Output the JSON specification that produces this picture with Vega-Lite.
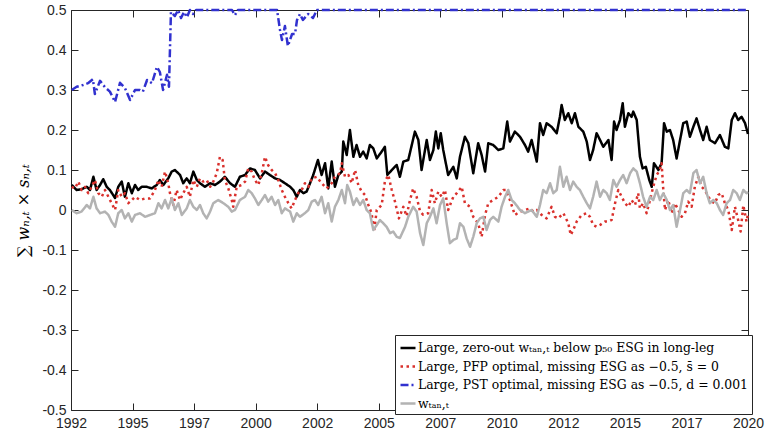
{
  "$schema": "https://vega.github.io/schema/vega-lite/v6.json",
  "width": 677,
  "height": 400,
  "autosize": {"type": "none"},
  "padding": {"left": 71, "top": 10, "right": 33, "bottom": 27},
  "background": "white",
  "config": {
    "font": "Liberation Sans",
    "view": {"stroke": null},
    "axis": {
      "grid": false,
      "labelFont": "Liberation Sans",
      "labelFontSize": 14,
      "labelColor": "#262626",
      "domainColor": "#262626",
      "domainWidth": 1,
      "tickColor": "#262626",
      "tickWidth": 1,
      "tickSize": -7
    }
  },
  "data": {
    "values": [
      {"s":"k","t":1992.53,"v":0.0625},{"s":"k","t":1992.73,"v":0.05},{"s":"k","t":1992.93,"v":0.052},{"s":"k","t":1993.14,"v":0.058},{"s":"k","t":1993.27,"v":0.05},{"s":"k","t":1993.41,"v":0.083},{"s":"k","t":1993.54,"v":0.05},{"s":"k","t":1993.68,"v":0.0625},{"s":"k","t":1993.81,"v":0.077},{"s":"k","t":1993.95,"v":0.058},{"s":"k","t":1994.08,"v":0.05},{"s":"k","t":1994.29,"v":0.03},{"s":"k","t":1994.42,"v":0.058},{"s":"k","t":1994.56,"v":0.071},{"s":"k","t":1994.69,"v":0.033},{"s":"k","t":1994.83,"v":0.067},{"s":"k","t":1994.97,"v":0.042},{"s":"k","t":1995.10,"v":0.0625},{"s":"k","t":1995.23,"v":0.05},{"s":"k","t":1995.37,"v":0.058},{"s":"k","t":1995.57,"v":0.058},{"s":"k","t":1995.78,"v":0.054},{"s":"k","t":1995.98,"v":0.0625},{"s":"k","t":1996.11,"v":0.075},{"s":"k","t":1996.25,"v":0.0625},{"s":"k","t":1996.45,"v":0.079},{"s":"k","t":1996.59,"v":0.096},{"s":"k","t":1996.72,"v":0.10},{"s":"k","t":1996.93,"v":0.0875},{"s":"k","t":1997.06,"v":0.067},{"s":"k","t":1997.20,"v":0.079},{"s":"k","t":1997.33,"v":0.067},{"s":"k","t":1997.47,"v":0.096},{"s":"k","t":1997.61,"v":0.075},{"s":"k","t":1997.74,"v":0.067},{"s":"k","t":1997.94,"v":0.058},{"s":"k","t":1998.15,"v":0.067},{"s":"k","t":1998.35,"v":0.0625},{"s":"k","t":1998.55,"v":0.071},{"s":"k","t":1998.75,"v":0.083},{"s":"k","t":1998.96,"v":0.067},{"s":"k","t":1999.16,"v":0.058},{"s":"k","t":1999.36,"v":0.083},{"s":"k","t":1999.57,"v":0.0875},{"s":"k","t":1999.77,"v":0.104},{"s":"k","t":1999.97,"v":0.10},{"s":"k","t":2000.18,"v":0.079},{"s":"k","t":2000.38,"v":0.096},{"s":"k","t":2000.58,"v":0.0875},{"s":"k","t":2000.79,"v":0.079},{"s":"k","t":2000.99,"v":0.075},{"s":"k","t":2001.19,"v":0.067},{"s":"k","t":2001.40,"v":0.058},{"s":"k","t":2001.53,"v":0.05},{"s":"k","t":2001.67,"v":0.033},{"s":"k","t":2001.80,"v":0.05},{"s":"k","t":2001.94,"v":0.042},{"s":"k","t":2002.07,"v":0.046},{"s":"k","t":2002.21,"v":0.067},{"s":"k","t":2002.34,"v":0.0875},{"s":"k","t":2002.53,"v":0.125},{"s":"k","t":2002.68,"v":0.0875},{"s":"k","t":2002.82,"v":0.117},{"s":"k","t":2002.95,"v":0.054},{"s":"k","t":2003.09,"v":0.121},{"s":"k","t":2003.22,"v":0.058},{"s":"k","t":2003.36,"v":0.0875},{"s":"k","t":2003.50,"v":0.096},{"s":"k","t":2003.56,"v":0.171},{"s":"k","t":2003.70,"v":0.1375},{"s":"k","t":2003.83,"v":0.20},{"s":"k","t":2003.97,"v":0.133},{"s":"k","t":2004.10,"v":0.1625},{"s":"k","t":2004.24,"v":0.133},{"s":"k","t":2004.37,"v":0.146},{"s":"k","t":2004.51,"v":0.129},{"s":"k","t":2004.64,"v":0.1625},{"s":"k","t":2004.78,"v":0.154},{"s":"k","t":2004.92,"v":0.129},{"s":"k","t":2005.12,"v":0.146},{"s":"k","t":2005.25,"v":0.158},{"s":"k","t":2005.35,"v":0.0875},{"s":"k","t":2005.53,"v":0.10},{"s":"k","t":2005.73,"v":0.1125},{"s":"k","t":2005.86,"v":0.083},{"s":"k","t":2006.00,"v":0.121},{"s":"k","t":2006.20,"v":0.125},{"s":"k","t":2006.47,"v":0.196},{"s":"k","t":2006.61,"v":0.175},{"s":"k","t":2006.74,"v":0.10},{"s":"k","t":2006.95,"v":0.175},{"s":"k","t":2007.08,"v":0.125},{"s":"k","t":2007.22,"v":0.15},{"s":"k","t":2007.32,"v":0.196},{"s":"k","t":2007.42,"v":0.154},{"s":"k","t":2007.52,"v":0.192},{"s":"k","t":2007.62,"v":0.15},{"s":"k","t":2007.82,"v":0.0875},{"s":"k","t":2008.03,"v":0.108},{"s":"k","t":2008.17,"v":0.079},{"s":"k","t":2008.30,"v":0.133},{"s":"k","t":2008.50,"v":0.183},{"s":"k","t":2008.64,"v":0.167},{"s":"k","t":2008.84,"v":0.092},{"s":"k","t":2009.04,"v":0.167},{"s":"k","t":2009.18,"v":0.1375},{"s":"k","t":2009.32,"v":0.096},{"s":"k","t":2009.45,"v":0.167},{"s":"k","t":2009.65,"v":0.1625},{"s":"k","t":2009.86,"v":0.15},{"s":"k","t":2010.06,"v":0.154},{"s":"k","t":2010.22,"v":0.221},{"s":"k","t":2010.33,"v":0.171},{"s":"k","t":2010.53,"v":0.196},{"s":"k","t":2010.74,"v":0.183},{"s":"k","t":2010.94,"v":0.1625},{"s":"k","t":2011.07,"v":0.146},{"s":"k","t":2011.21,"v":0.175},{"s":"k","t":2011.42,"v":0.121},{"s":"k","t":2011.55,"v":0.217},{"s":"k","t":2011.68,"v":0.1875},{"s":"k","t":2011.82,"v":0.217},{"s":"k","t":2012.02,"v":0.208},{"s":"k","t":2012.23,"v":0.192},{"s":"k","t":2012.36,"v":0.233},{"s":"k","t":2012.43,"v":0.2625},{"s":"k","t":2012.56,"v":0.225},{"s":"k","t":2012.70,"v":0.242},{"s":"k","t":2012.84,"v":0.217},{"s":"k","t":2012.97,"v":0.242},{"s":"k","t":2013.11,"v":0.208},{"s":"k","t":2013.31,"v":0.196},{"s":"k","t":2013.45,"v":0.171},{"s":"k","t":2013.58,"v":0.125},{"s":"k","t":2013.71,"v":0.15},{"s":"k","t":2013.85,"v":0.192},{"s":"k","t":2013.99,"v":0.175},{"s":"k","t":2014.12,"v":0.158},{"s":"k","t":2014.33,"v":0.175},{"s":"k","t":2014.46,"v":0.125},{"s":"k","t":2014.56,"v":0.221},{"s":"k","t":2014.66,"v":0.20},{"s":"k","t":2014.80,"v":0.225},{"s":"k","t":2014.91,"v":0.267},{"s":"k","t":2015.00,"v":0.208},{"s":"k","t":2015.14,"v":0.242},{"s":"k","t":2015.27,"v":0.233},{"s":"k","t":2015.34,"v":0.246},{"s":"k","t":2015.48,"v":0.225},{"s":"k","t":2015.61,"v":0.133},{"s":"k","t":2015.72,"v":0.104},{"s":"k","t":2015.85,"v":0.108},{"s":"k","t":2015.99,"v":0.075},{"s":"k","t":2016.09,"v":0.058},{"s":"k","t":2016.18,"v":0.117},{"s":"k","t":2016.36,"v":0.10},{"s":"k","t":2016.49,"v":0.117},{"s":"k","t":2016.59,"v":0.217},{"s":"k","t":2016.70,"v":0.196},{"s":"k","t":2016.83,"v":0.20},{"s":"k","t":2016.96,"v":0.175},{"s":"k","t":2017.10,"v":0.129},{"s":"k","t":2017.24,"v":0.175},{"s":"k","t":2017.37,"v":0.217},{"s":"k","t":2017.51,"v":0.221},{"s":"k","t":2017.64,"v":0.183},{"s":"k","t":2017.78,"v":0.208},{"s":"k","t":2017.91,"v":0.229},{"s":"k","t":2018.05,"v":0.20},{"s":"k","t":2018.18,"v":0.175},{"s":"k","t":2018.32,"v":0.208},{"s":"k","t":2018.45,"v":0.175},{"s":"k","t":2018.66,"v":0.167},{"s":"k","t":2018.86,"v":0.1875},{"s":"k","t":2019.06,"v":0.158},{"s":"k","t":2019.20,"v":0.154},{"s":"k","t":2019.34,"v":0.225},{"s":"k","t":2019.47,"v":0.242},{"s":"k","t":2019.60,"v":0.225},{"s":"k","t":2019.74,"v":0.233},{"s":"k","t":2019.88,"v":0.217},{"s":"k","t":2020.00,"v":0.19},

      {"s":"r","t":1992.53,"v":0.058},{"s":"r","t":1992.66,"v":0.054},{"s":"r","t":1992.80,"v":0.071},{"s":"r","t":1992.93,"v":0.05},{"s":"r","t":1993.07,"v":0.058},{"s":"r","t":1993.20,"v":0.042},{"s":"r","t":1993.34,"v":0.058},{"s":"r","t":1993.47,"v":0.075},{"s":"r","t":1993.61,"v":0.042},{"s":"r","t":1993.75,"v":0.033},{"s":"r","t":1993.88,"v":0.05},{"s":"r","t":1994.02,"v":0.033},{"s":"r","t":1994.15,"v":0.017},{"s":"r","t":1994.29,"v":0.0},{"s":"r","t":1994.42,"v":0.05},{"s":"r","t":1994.56,"v":0.033},{"s":"r","t":1994.69,"v":0.042},{"s":"r","t":1994.83,"v":0.017},{"s":"r","t":1994.97,"v":0.025},{"s":"r","t":1995.10,"v":0.033},{"s":"r","t":1995.30,"v":0.025},{"s":"r","t":1995.51,"v":0.029},{"s":"r","t":1995.71,"v":0.029},{"s":"r","t":1995.91,"v":0.05},{"s":"r","t":1996.05,"v":0.075},{"s":"r","t":1996.18,"v":0.058},{"s":"r","t":1996.32,"v":0.096},{"s":"r","t":1996.45,"v":0.067},{"s":"r","t":1996.52,"v":0.042},{"s":"r","t":1996.66,"v":0.0125},{"s":"r","t":1996.79,"v":0.05},{"s":"r","t":1996.93,"v":0.025},{"s":"r","t":1997.06,"v":0.042},{"s":"r","t":1997.20,"v":0.058},{"s":"r","t":1997.33,"v":0.033},{"s":"r","t":1997.47,"v":0.075},{"s":"r","t":1997.61,"v":0.058},{"s":"r","t":1997.74,"v":0.079},{"s":"r","t":1997.87,"v":0.071},{"s":"r","t":1998.01,"v":0.075},{"s":"r","t":1998.15,"v":0.058},{"s":"r","t":1998.28,"v":0.071},{"s":"r","t":1998.42,"v":0.092},{"s":"r","t":1998.55,"v":0.133},{"s":"r","t":1998.66,"v":0.125},{"s":"r","t":1998.75,"v":0.075},{"s":"r","t":1998.89,"v":0.054},{"s":"r","t":1999.03,"v":0.025},{"s":"r","t":1999.09,"v":0.008},{"s":"r","t":1999.23,"v":0.058},{"s":"r","t":1999.43,"v":0.0625},{"s":"r","t":1999.57,"v":0.071},{"s":"r","t":1999.70,"v":0.104},{"s":"r","t":1999.84,"v":0.096},{"s":"r","t":1999.97,"v":0.075},{"s":"r","t":2000.11,"v":0.0625},{"s":"r","t":2000.25,"v":0.092},{"s":"r","t":2000.38,"v":0.133},{"s":"r","t":2000.51,"v":0.112},{"s":"r","t":2000.65,"v":0.10},{"s":"r","t":2000.79,"v":0.092},{"s":"r","t":2000.92,"v":0.075},{"s":"r","t":2001.06,"v":0.05},{"s":"r","t":2001.19,"v":0.033},{"s":"r","t":2001.33,"v":0.017},{"s":"r","t":2001.46,"v":0.004},{"s":"r","t":2001.60,"v":0.025},{"s":"r","t":2001.73,"v":0.042},{"s":"r","t":2001.87,"v":0.05},{"s":"r","t":2002.00,"v":0.067},{"s":"r","t":2002.14,"v":0.058},{"s":"r","t":2002.28,"v":0.079},{"s":"r","t":2002.48,"v":0.083},{"s":"r","t":2002.68,"v":0.067},{"s":"r","t":2002.88,"v":0.054},{"s":"r","t":2003.09,"v":0.067},{"s":"r","t":2003.22,"v":0.083},{"s":"r","t":2003.43,"v":0.092},{"s":"r","t":2003.50,"v":0.117},{"s":"r","t":2003.63,"v":0.083},{"s":"r","t":2003.77,"v":0.0875},{"s":"r","t":2003.90,"v":0.067},{"s":"r","t":2004.04,"v":0.10},{"s":"r","t":2004.17,"v":0.062},{"s":"r","t":2004.31,"v":0.046},{"s":"r","t":2004.44,"v":0.0375},{"s":"r","t":2004.58,"v":0.0125},{"s":"r","t":2004.71,"v":-0.008},{"s":"r","t":2004.81,"v":-0.054},{"s":"r","t":2004.92,"v":0.0},{"s":"r","t":2005.12,"v":0.0125},{"s":"r","t":2005.25,"v":0.071},{"s":"r","t":2005.39,"v":0.0875},{"s":"r","t":2005.53,"v":0.05},{"s":"r","t":2005.66,"v":0.021},{"s":"r","t":2005.82,"v":-0.021},{"s":"r","t":2006.00,"v":0.008},{"s":"r","t":2006.13,"v":-0.015},{"s":"r","t":2006.27,"v":0.025},{"s":"r","t":2006.40,"v":0.054},{"s":"r","t":2006.54,"v":0.033},{"s":"r","t":2006.68,"v":-0.004},{"s":"r","t":2006.81,"v":-0.012},{"s":"r","t":2007.01,"v":-0.008},{"s":"r","t":2007.15,"v":0.05},{"s":"r","t":2007.28,"v":0.017},{"s":"r","t":2007.42,"v":0.046},{"s":"r","t":2007.56,"v":0.033},{"s":"r","t":2007.69,"v":0.05},{"s":"r","t":2007.82,"v":0.0},{"s":"r","t":2008.03,"v":0.033},{"s":"r","t":2008.17,"v":0.042},{"s":"r","t":2008.37,"v":0.058},{"s":"r","t":2008.50,"v":0.017},{"s":"r","t":2008.71,"v":0.008},{"s":"r","t":2008.84,"v":-0.017},{"s":"r","t":2009.04,"v":-0.033},{"s":"r","t":2009.18,"v":-0.067},{"s":"r","t":2009.32,"v":-0.0125},{"s":"r","t":2009.45,"v":0.017},{"s":"r","t":2009.65,"v":0.025},{"s":"r","t":2009.86,"v":0.033},{"s":"r","t":2010.06,"v":0.05},{"s":"r","t":2010.17,"v":0.05},{"s":"r","t":2010.33,"v":0.025},{"s":"r","t":2010.53,"v":-0.0125},{"s":"r","t":2010.74,"v":-0.004},{"s":"r","t":2010.94,"v":0.0},{"s":"r","t":2011.14,"v":0.004},{"s":"r","t":2011.28,"v":-0.004},{"s":"r","t":2011.42,"v":0.0},{"s":"r","t":2011.62,"v":-0.0125},{"s":"r","t":2011.82,"v":-0.021},{"s":"r","t":2012.02,"v":0.008},{"s":"r","t":2012.16,"v":-0.017},{"s":"r","t":2012.29,"v":-0.021},{"s":"r","t":2012.50,"v":-0.008},{"s":"r","t":2012.70,"v":-0.033},{"s":"r","t":2012.80,"v":-0.0625},{"s":"r","t":2012.90,"v":-0.05},{"s":"r","t":2013.04,"v":-0.029},{"s":"r","t":2013.24,"v":-0.0125},{"s":"r","t":2013.45,"v":-0.008},{"s":"r","t":2013.58,"v":-0.017},{"s":"r","t":2013.71,"v":-0.0375},{"s":"r","t":2013.85,"v":-0.042},{"s":"r","t":2013.99,"v":-0.0375},{"s":"r","t":2014.19,"v":-0.029},{"s":"r","t":2014.33,"v":-0.029},{"s":"r","t":2014.46,"v":-0.025},{"s":"r","t":2014.60,"v":0.017},{"s":"r","t":2014.73,"v":0.05},{"s":"r","t":2014.87,"v":0.033},{"s":"r","t":2015.00,"v":0.017},{"s":"r","t":2015.14,"v":0.008},{"s":"r","t":2015.27,"v":0.025},{"s":"r","t":2015.41,"v":0.0125},{"s":"r","t":2015.54,"v":0.042},{"s":"r","t":2015.61,"v":0.004},{"s":"r","t":2015.74,"v":0.017},{"s":"r","t":2015.88,"v":-0.008},{"s":"r","t":2016.02,"v":0.025},{"s":"r","t":2016.15,"v":0.058},{"s":"r","t":2016.29,"v":0.0875},{"s":"r","t":2016.42,"v":0.10},{"s":"r","t":2016.49,"v":0.117},{"s":"r","t":2016.56,"v":0.05},{"s":"r","t":2016.63,"v":0.0},{"s":"r","t":2016.76,"v":0.025},{"s":"r","t":2016.90,"v":-0.008},{"s":"r","t":2017.03,"v":0.017},{"s":"r","t":2017.17,"v":0.0},{"s":"r","t":2017.30,"v":-0.017},{"s":"r","t":2017.44,"v":-0.008},{"s":"r","t":2017.57,"v":0.021},{"s":"r","t":2017.71,"v":0.008},{"s":"r","t":2017.84,"v":0.058},{"s":"r","t":2017.98,"v":0.083},{"s":"r","t":2018.12,"v":0.058},{"s":"r","t":2018.25,"v":0.05},{"s":"r","t":2018.39,"v":0.033},{"s":"r","t":2018.52,"v":0.021},{"s":"r","t":2018.66,"v":0.017},{"s":"r","t":2018.79,"v":0.0375},{"s":"r","t":2018.93,"v":0.042},{"s":"r","t":2019.06,"v":0.017},{"s":"r","t":2019.20,"v":0.0},{"s":"r","t":2019.34,"v":-0.05},{"s":"r","t":2019.47,"v":0.008},{"s":"r","t":2019.60,"v":-0.025},{"s":"r","t":2019.70,"v":-0.054},{"s":"r","t":2019.81,"v":0.012},{"s":"r","t":2019.94,"v":-0.029},{"s":"r","t":2020.00,"v":-0.01},

      {"s":"b","t":1992.53,"v":0.30},{"s":"b","t":1992.73,"v":0.308},{"s":"b","t":1992.99,"v":0.3125},{"s":"b","t":1993.19,"v":0.317},{"s":"b","t":1993.39,"v":0.327},{"s":"b","t":1993.47,"v":0.29},{"s":"b","t":1993.68,"v":0.323},{"s":"b","t":1993.88,"v":0.307},{"s":"b","t":1994.08,"v":0.296},{"s":"b","t":1994.29,"v":0.27},{"s":"b","t":1994.49,"v":0.318},{"s":"b","t":1994.69,"v":0.305},{"s":"b","t":1994.90,"v":0.275},{"s":"b","t":1995.10,"v":0.30},{"s":"b","t":1995.30,"v":0.30},{"s":"b","t":1995.42,"v":0.296},{"s":"b","t":1995.59,"v":0.325},{"s":"b","t":1995.79,"v":0.317},{"s":"b","t":1995.99,"v":0.358},{"s":"b","t":1996.11,"v":0.345},{"s":"b","t":1996.24,"v":0.30},{"s":"b","t":1996.40,"v":0.338},{"s":"b","t":1996.48,"v":0.308},{"s":"b","t":1996.56,"v":0.495},{"s":"b","t":1996.72,"v":0.485},{"s":"b","t":1996.85,"v":0.5},{"s":"b","t":1996.97,"v":0.48},{"s":"b","t":1997.09,"v":0.495},{"s":"b","t":1997.21,"v":0.482},{"s":"b","t":1997.33,"v":0.5},{"s":"b","t":1997.46,"v":0.49},{"s":"b","t":1997.58,"v":0.5},{"s":"b","t":1998.00,"v":0.5},{"s":"b","t":1998.50,"v":0.5},{"s":"b","t":1999.04,"v":0.5},{"s":"b","t":1999.16,"v":0.487},{"s":"b","t":1999.28,"v":0.5},{"s":"b","t":2000.00,"v":0.5},{"s":"b","t":2000.87,"v":0.5},{"s":"b","t":2000.99,"v":0.45},{"s":"b","t":2001.07,"v":0.425},{"s":"b","t":2001.19,"v":0.46},{"s":"b","t":2001.31,"v":0.41},{"s":"b","t":2001.48,"v":0.44},{"s":"b","t":2001.60,"v":0.44},{"s":"b","t":2001.68,"v":0.475},{"s":"b","t":2001.80,"v":0.49},{"s":"b","t":2001.92,"v":0.475},{"s":"b","t":2002.13,"v":0.49},{"s":"b","t":2002.33,"v":0.48},{"s":"b","t":2002.49,"v":0.5},{"s":"b","t":2005.00,"v":0.5},{"s":"b","t":2010.00,"v":0.5},{"s":"b","t":2015.00,"v":0.5},{"s":"b","t":2020.00,"v":0.5},

      {"s":"g","t":1992.53,"v":0.0},{"s":"g","t":1992.73,"v":-0.008},{"s":"g","t":1992.93,"v":-0.004},{"s":"g","t":1993.14,"v":0.0125},{"s":"g","t":1993.27,"v":0.004},{"s":"g","t":1993.41,"v":0.033},{"s":"g","t":1993.54,"v":0.004},{"s":"g","t":1993.68,"v":-0.008},{"s":"g","t":1993.88,"v":-0.004},{"s":"g","t":1994.02,"v":-0.0125},{"s":"g","t":1994.15,"v":-0.029},{"s":"g","t":1994.29,"v":-0.042},{"s":"g","t":1994.42,"v":-0.008},{"s":"g","t":1994.56,"v":0.0},{"s":"g","t":1994.69,"v":-0.021},{"s":"g","t":1994.83,"v":-0.008},{"s":"g","t":1994.97,"v":-0.029},{"s":"g","t":1995.10,"v":-0.0125},{"s":"g","t":1995.30,"v":-0.008},{"s":"g","t":1995.51,"v":-0.017},{"s":"g","t":1995.71,"v":-0.0125},{"s":"g","t":1995.91,"v":-0.008},{"s":"g","t":1996.05,"v":0.017},{"s":"g","t":1996.18,"v":0.004},{"s":"g","t":1996.32,"v":0.025},{"s":"g","t":1996.45,"v":0.004},{"s":"g","t":1996.59,"v":0.029},{"s":"g","t":1996.72,"v":0.0},{"s":"g","t":1996.86,"v":0.017},{"s":"g","t":1997.00,"v":-0.0125},{"s":"g","t":1997.20,"v":0.004},{"s":"g","t":1997.33,"v":0.025},{"s":"g","t":1997.47,"v":0.008},{"s":"g","t":1997.61,"v":0.0},{"s":"g","t":1997.74,"v":0.0125},{"s":"g","t":1997.87,"v":-0.008},{"s":"g","t":1998.01,"v":-0.021},{"s":"g","t":1998.15,"v":-0.004},{"s":"g","t":1998.28,"v":0.017},{"s":"g","t":1998.48,"v":0.025},{"s":"g","t":1998.69,"v":0.017},{"s":"g","t":1998.89,"v":0.008},{"s":"g","t":1999.03,"v":-0.004},{"s":"g","t":1999.16,"v":0.0},{"s":"g","t":1999.36,"v":0.025},{"s":"g","t":1999.57,"v":0.033},{"s":"g","t":1999.70,"v":0.05},{"s":"g","t":1999.84,"v":0.042},{"s":"g","t":1999.97,"v":0.029},{"s":"g","t":2000.11,"v":0.0125},{"s":"g","t":2000.25,"v":0.025},{"s":"g","t":2000.38,"v":0.0375},{"s":"g","t":2000.51,"v":0.021},{"s":"g","t":2000.65,"v":0.033},{"s":"g","t":2000.79,"v":0.0125},{"s":"g","t":2000.92,"v":0.025},{"s":"g","t":2001.06,"v":-0.008},{"s":"g","t":2001.19,"v":0.004},{"s":"g","t":2001.40,"v":-0.004},{"s":"g","t":2001.53,"v":-0.029},{"s":"g","t":2001.67,"v":-0.008},{"s":"g","t":2001.80,"v":-0.017},{"s":"g","t":2002.00,"v":-0.008},{"s":"g","t":2002.14,"v":0.0},{"s":"g","t":2002.28,"v":0.021},{"s":"g","t":2002.41,"v":0.025},{"s":"g","t":2002.54,"v":0.0125},{"s":"g","t":2002.68,"v":0.033},{"s":"g","t":2002.82,"v":-0.008},{"s":"g","t":2002.95,"v":0.017},{"s":"g","t":2003.09,"v":-0.029},{"s":"g","t":2003.22,"v":0.008},{"s":"g","t":2003.36,"v":0.025},{"s":"g","t":2003.50,"v":0.05},{"s":"g","t":2003.63,"v":0.017},{"s":"g","t":2003.72,"v":0.0625},{"s":"g","t":2003.83,"v":0.046},{"s":"g","t":2003.97,"v":0.0125},{"s":"g","t":2004.10,"v":0.029},{"s":"g","t":2004.24,"v":0.0125},{"s":"g","t":2004.37,"v":0.025},{"s":"g","t":2004.51,"v":0.0},{"s":"g","t":2004.64,"v":-0.008},{"s":"g","t":2004.78,"v":-0.05},{"s":"g","t":2004.92,"v":-0.0375},{"s":"g","t":2005.05,"v":-0.025},{"s":"g","t":2005.18,"v":-0.033},{"s":"g","t":2005.32,"v":-0.042},{"s":"g","t":2005.46,"v":-0.058},{"s":"g","t":2005.59,"v":-0.054},{"s":"g","t":2005.73,"v":-0.067},{"s":"g","t":2005.86,"v":-0.07},{"s":"g","t":2006.07,"v":-0.042},{"s":"g","t":2006.20,"v":-0.017},{"s":"g","t":2006.40,"v":0.008},{"s":"g","t":2006.54,"v":-0.004},{"s":"g","t":2006.68,"v":-0.058},{"s":"g","t":2006.81,"v":-0.0875},{"s":"g","t":2006.95,"v":-0.033},{"s":"g","t":2007.08,"v":-0.017},{"s":"g","t":2007.22,"v":0.004},{"s":"g","t":2007.35,"v":-0.033},{"s":"g","t":2007.49,"v":0.0125},{"s":"g","t":2007.62,"v":0.029},{"s":"g","t":2007.76,"v":-0.033},{"s":"g","t":2007.89,"v":-0.083},{"s":"g","t":2008.03,"v":-0.075},{"s":"g","t":2008.17,"v":-0.071},{"s":"g","t":2008.30,"v":-0.033},{"s":"g","t":2008.44,"v":-0.042},{"s":"g","t":2008.57,"v":-0.071},{"s":"g","t":2008.71,"v":-0.092},{"s":"g","t":2008.84,"v":-0.067},{"s":"g","t":2008.98,"v":-0.033},{"s":"g","t":2009.11,"v":-0.021},{"s":"g","t":2009.25,"v":-0.017},{"s":"g","t":2009.38,"v":-0.05},{"s":"g","t":2009.52,"v":-0.025},{"s":"g","t":2009.65,"v":-0.017},{"s":"g","t":2009.86,"v":-0.029},{"s":"g","t":2009.99,"v":0.008},{"s":"g","t":2010.13,"v":0.033},{"s":"g","t":2010.26,"v":0.05},{"s":"g","t":2010.40,"v":0.025},{"s":"g","t":2010.53,"v":0.017},{"s":"g","t":2010.74,"v":0.0},{"s":"g","t":2010.94,"v":-0.008},{"s":"g","t":2011.07,"v":-0.004},{"s":"g","t":2011.21,"v":0.0},{"s":"g","t":2011.42,"v":-0.017},{"s":"g","t":2011.55,"v":0.0125},{"s":"g","t":2011.68,"v":0.05},{"s":"g","t":2011.82,"v":0.042},{"s":"g","t":2011.96,"v":0.067},{"s":"g","t":2012.09,"v":0.042},{"s":"g","t":2012.23,"v":0.05},{"s":"g","t":2012.36,"v":0.108},{"s":"g","t":2012.50,"v":0.058},{"s":"g","t":2012.63,"v":0.083},{"s":"g","t":2012.77,"v":0.05},{"s":"g","t":2012.90,"v":0.071},{"s":"g","t":2013.04,"v":0.058},{"s":"g","t":2013.17,"v":0.05},{"s":"g","t":2013.31,"v":0.033},{"s":"g","t":2013.45,"v":0.017},{"s":"g","t":2013.58,"v":0.004},{"s":"g","t":2013.71,"v":0.033},{"s":"g","t":2013.85,"v":0.071},{"s":"g","t":2013.99,"v":0.033},{"s":"g","t":2014.12,"v":0.05},{"s":"g","t":2014.26,"v":0.042},{"s":"g","t":2014.39,"v":0.025},{"s":"g","t":2014.53,"v":0.075},{"s":"g","t":2014.66,"v":0.058},{"s":"g","t":2014.80,"v":0.075},{"s":"g","t":2014.93,"v":0.0875},{"s":"g","t":2015.07,"v":0.067},{"s":"g","t":2015.21,"v":0.092},{"s":"g","t":2015.34,"v":0.104},{"s":"g","t":2015.48,"v":0.096},{"s":"g","t":2015.61,"v":0.067},{"s":"g","t":2015.74,"v":0.033},{"s":"g","t":2015.88,"v":0.008},{"s":"g","t":2016.02,"v":0.033},{"s":"g","t":2016.15,"v":0.025},{"s":"g","t":2016.29,"v":0.05},{"s":"g","t":2016.42,"v":0.025},{"s":"g","t":2016.56,"v":0.042},{"s":"g","t":2016.70,"v":0.025},{"s":"g","t":2016.83,"v":0.0},{"s":"g","t":2016.96,"v":0.0125},{"s":"g","t":2017.10,"v":-0.042},{"s":"g","t":2017.24,"v":0.0},{"s":"g","t":2017.37,"v":0.042},{"s":"g","t":2017.51,"v":0.05},{"s":"g","t":2017.64,"v":0.042},{"s":"g","t":2017.78,"v":0.092},{"s":"g","t":2017.91,"v":0.10},{"s":"g","t":2018.05,"v":0.067},{"s":"g","t":2018.18,"v":0.083},{"s":"g","t":2018.32,"v":0.042},{"s":"g","t":2018.45,"v":0.017},{"s":"g","t":2018.59,"v":0.025},{"s":"g","t":2018.73,"v":0.017},{"s":"g","t":2018.86,"v":0.0},{"s":"g","t":2018.99,"v":-0.0125},{"s":"g","t":2019.13,"v":0.017},{"s":"g","t":2019.27,"v":0.025},{"s":"g","t":2019.40,"v":0.05},{"s":"g","t":2019.54,"v":0.042},{"s":"g","t":2019.67,"v":0.025},{"s":"g","t":2019.81,"v":0.05},{"s":"g","t":2019.94,"v":0.042},{"s":"g","t":2020.00,"v":0.045}
    ]
  },
  "layer": [
    {
      "mark": {"type": "line", "strokeWidth": 2.5, "strokeCap": "butt", "strokeJoin": "round"},
      "encoding": {
        "x": {
          "field": "t", "type": "quantitative",
          "scale": {"domain": [1992.5, 2020], "nice": false, "zero": false},
          "axis": {
            "orient": "bottom", "title": null,
            "values": [1992.5, 1995, 1997.5, 2000, 2002.5, 2005, 2007.5, 2010, 2012.5, 2015, 2017.5, 2020],
            "labelExpr": "'' + floor(datum.value)",
            "labelPadding": 13, "labelFlush": false, "labelOverlap": false
          }
        },
        "y": {
          "field": "v", "type": "quantitative",
          "scale": {"domain": [-0.5, 0.5], "nice": false, "zero": false},
          "axis": {
            "orient": "left",
            "values": [-0.5, -0.4, -0.3, -0.2, -0.1, 0, 0.1, 0.2, 0.3, 0.4, 0.5],
            "labelExpr": "abs(datum.value) < 1e-9 ? '0' : (datum.value < 0 ? '-' + format(-datum.value, '.1f') : format(datum.value, '.1f'))",
            "labelPadding": 12, "labelFlush": false, "labelOverlap": false,
            "title": "∑ wₙ,ₜ × sₙ,ₜ",
            "titleFont": "DejaVu Serif", "titleFontSize": 16, "titleFontWeight": "normal",
            "titleFontStyle": "italic", "titleColor": "#000000", "titlePadding": 10
          }
        },
        "color": {
          "field": "s", "type": "nominal",
          "scale": {"domain": ["k", "r", "b", "g"], "range": ["#000000", "#d9302c", "#3131cf", "#b3b3b3"]},
          "legend": {
            "orient": "none", "legendX": 324, "legendY": 325,
            "title": null, "direction": "vertical",
            "strokeColor": "#262626", "fillColor": "#ffffff", "padding": 4,
            "symbolType": "stroke", "symbolSize": 225, "symbolStrokeWidth": 2.5,
            "labelFont": "DejaVu Serif", "labelFontSize": 12.4, "labelColor": "#000000",
            "labelOffset": 1, "labelLimit": 500, "rowPadding": 2.5,
            "labelExpr": "datum.label == 'k' ? 'Large, zero-out wₜₐₙ,ₜ below p₅₀ ESG in long-leg' : datum.label == 'r' ? 'Large, PFP optimal, missing ESG as −0.5, s̄ = 0' : datum.label == 'b' ? 'Large, PST optimal, missing ESG as −0.5, d = 0.001' : 'wₜₐₙ,ₜ'"
          }
        },
        "strokeDash": {
          "field": "s", "type": "nominal",
          "scale": {"domain": ["k", "r", "b", "g"], "range": [[1, 0], [2.5, 3.5], [8, 3, 2, 3], [1, 0]]}
        }
      }
    },
    {
      "mark": {"type": "point", "opacity": 0},
      "encoding": {
        "x": {
          "field": "t", "type": "quantitative",
          "axis": {
            "orient": "top", "title": null, "labels": false,
            "values": [1992.5, 1995, 1997.5, 2000, 2002.5, 2005, 2007.5, 2010, 2012.5, 2015, 2017.5, 2020]
          }
        },
        "y": {
          "field": "v", "type": "quantitative",
          "axis": {
            "orient": "right", "title": null, "labels": false,
            "values": [-0.5, -0.4, -0.3, -0.2, -0.1, 0, 0.1, 0.2, 0.3, 0.4, 0.5]
          }
        }
      }
    }
  ],
  "resolve": {"axis": {"x": "independent", "y": "independent"}}
}
